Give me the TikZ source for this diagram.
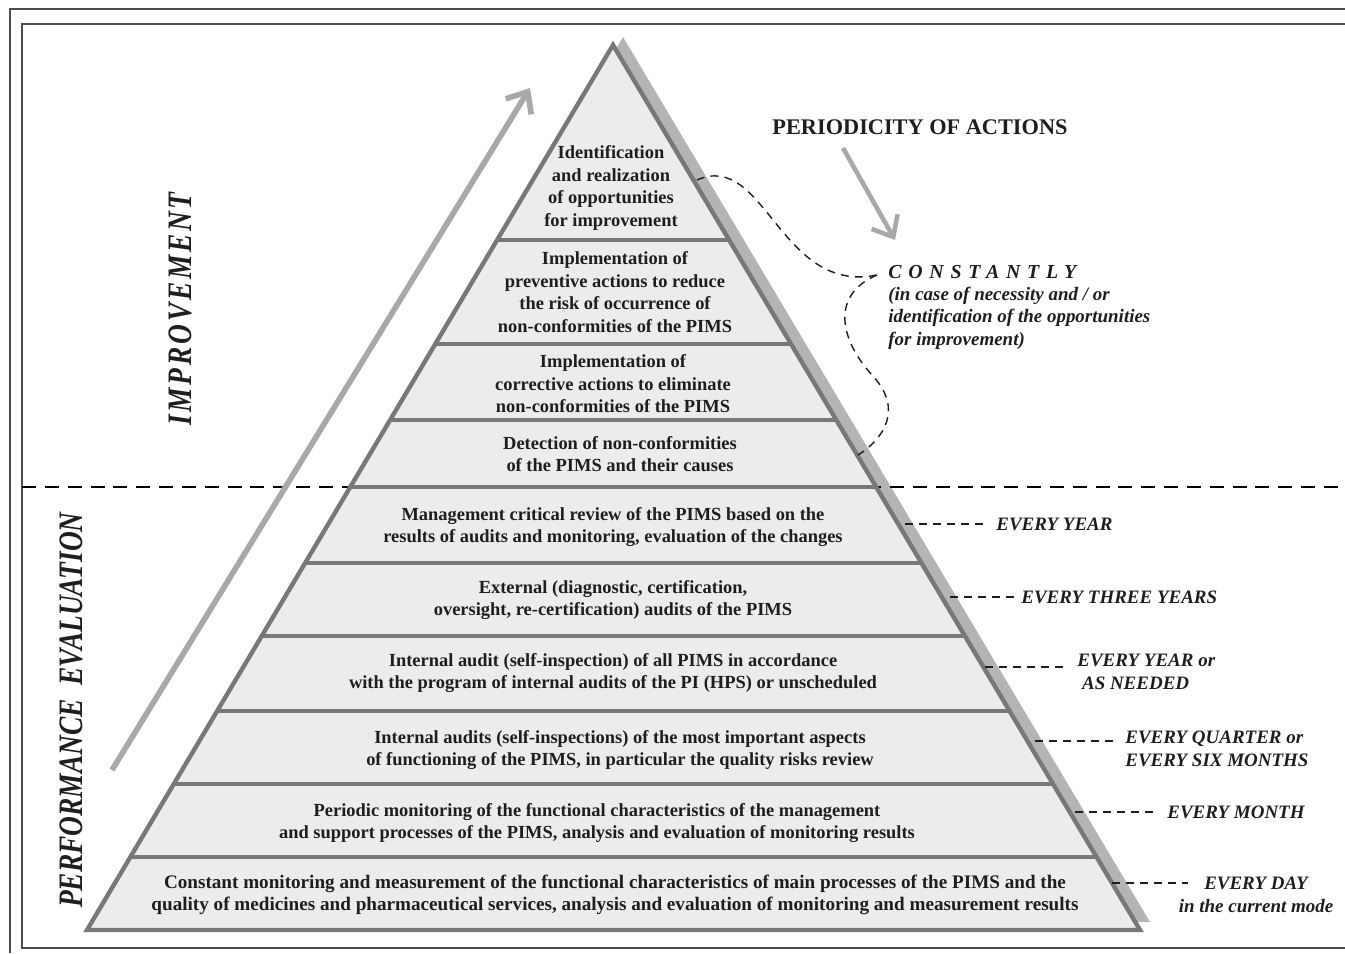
\documentclass[tikz,border=0pt]{standalone}
\usepackage{fontspec}
\setmainfont{Liberation Serif}
\newfontfamily\narrowserif[FakeStretch=0.8]{Liberation Serif}
\usetikzlibrary{arrows.meta}

\definecolor{pyrfill}{HTML}{ECECEC}
\definecolor{pyrline}{HTML}{787878}
\definecolor{pyrshade}{HTML}{B4B4B4}
\definecolor{arrowgray}{HTML}{A8A8A8}
\definecolor{ink}{HTML}{1E1E1E}

\tikzset{
  layer/.style={font=\bfseries\fontsize{10.5}{12.8}\selectfont, align=center, text=ink, inner sep=0pt},
  period/.style={font=\bfseries\itshape\fontsize{10.8}{12.8}\selectfont, align=left, text=ink, inner sep=0pt},
  tick/.style={draw=ink, line width=0.8pt, dash pattern=on 4.5pt off 3.5pt, shorten >=7pt},
  brace/.style={draw=ink, line width=0.8pt, dash pattern=on 4.5pt off 3.5pt},
  bigarrow/.style={draw=arrowgray, line width=3.2pt, -{Straight Barb[length=10pt,width=17pt]}},
  sidetitle/.style={rotate=90, text=ink, font=\narrowserif\bfseries\itshape\fontsize{19.5}{22}\selectfont},
}

\begin{document}
\begin{tikzpicture}[x=0.02cm, y=-0.02cm]
  \useasboundingbox (0,0) rectangle (1345,953);
  % frame
  \draw[line width=1.1pt, black!70] (1345,9) -- (10,9) -- (10,953);
  \draw[line width=1.1pt, black!70] (1345,24) -- (22,24) -- (22,948) -- (1345,948);

  % pyramid corners
  \coordinate (apex) at (613,45);
  \coordinate (bl) at (87,930);
  \coordinate (br) at (1140,930);

  % shadow and border line between the two parts
  \fill[pyrshade] ([shift={(10,-8)}]apex) -- ([shift={(10,-8)}]bl) -- ([shift={(10,-8)}]br) -- cycle;
  \draw[black, line width=1.6pt, dash pattern=on 8pt off 5pt] (22,487) -- (1345,487);

  % long arrow
  \coordinate (up1) at (112,770);
  \coordinate (up2) at (530,88);
  \draw[bigarrow] (up1) -- (up2);

  % pyramid body
  \fill[pyrfill] (apex) -- (bl) -- (br) -- cycle;
  \begin{scope}
    \clip (apex) -- (bl) -- (br) -- cycle;
    \foreach \y in {240,344,420,487,563,636,711,784,857}
      \draw[pyrline, line width=2.2pt] (0,\y) -- (1345,\y);
  \end{scope}
  \draw[pyrline, line width=2.5pt] (apex) -- (bl) -- (br) -- cycle;

  % levels
  \node[layer] (l1) at (611,188) {Identification\\and realization\\of opportunities\\for improvement};
  \node[layer] (l2) at (615,292) {Implementation of\\preventive actions to reduce\\the risk of occurrence of\\non-conformities of the PIMS};
  \node[layer] (l3) at (613,384) {Implementation of\\corrective actions to eliminate\\non-conformities of the PIMS};
  \node[layer] (l4) at (620,454) {Detection of non-conformities\\of the PIMS and their causes};
  \node[layer] (l5) at (613,527) {Management critical review of the PIMS based on the\\results of audits and monitoring, evaluation of the changes};
  \node[layer] (l6) at (613,600) {External (diagnostic, certification,\\oversight, re-certification) audits of the PIMS};
  \node[layer] (l7) at (613,673) {Internal audit (self-inspection) of all PIMS in accordance\\with the program of internal audits of the PI (HPS) or unscheduled};
  \node[layer] (l8) at (620,750) {Internal audits (self-inspections) of the most important aspects\\of functioning of the PIMS, in particular the quality risks review};
  \node[layer] (l9) at (597,823) {Periodic monitoring of the functional characteristics of the management\\and support processes of the PIMS, analysis and evaluation of monitoring results};
  \node[layer, font=\bfseries\fontsize{10.9}{12.8}\selectfont] (l10) at (615,895) {Constant monitoring and measurement of the functional characteristics of main processes of the PIMS and the\\quality of medicines and pharmaceutical services, analysis and evaluation of monitoring and measurement results};

  % side titles
  \node[sidetitle] (impr) at (180,309) {\addfontfeature{LetterSpace=8}IMPROVEMENT};
  \node[sidetitle] (perf) at (71,710) {PERFORMANCE\ \ EVALUATION};

  % periodicity
  \node[text=ink, font=\bfseries\fontsize{12.7}{15}\selectfont] (title) at (920,127) {PERIODICITY OF ACTIONS};
  \coordinate (pa1) at (843,148);
  \coordinate (pa2) at (895,240);
  \draw[bigarrow, line width=2.6pt] (pa1) -- (pa2);

  \node[period, anchor=west, font=\bfseries\itshape\fontsize{11.3}{13}\selectfont] (const) at (888,272) {\addfontfeature{LetterSpace=34}CONSTANTLY};
  \node[period, anchor=west] (constnote) at (888,318) {(in case of necessity and / or\\identification of the opportunities\\for improvement)};
  \coordinate (b1) at (697,180);
  \coordinate (tip) at (877,275);
  \coordinate (b2) at (858,455);
  \draw[brace] (b1) .. controls (765,150) and (780,295) .. (tip);
  \draw[brace] (tip) .. controls (830,295) and (840,340) .. (872,375)
                     .. controls (905,410) and (882,440) .. (b2);

  \coordinate (p5) at (905,524);
  \node[period, anchor=west] (e5) at (996,524) {EVERY YEAR};
  \draw[tick] (p5) -- (e5.west |- p5);
  \coordinate (p6) at (950,597);
  \node[period, anchor=west] (e6) at (1021,597) {EVERY\ THREE\ YEARS};
  \draw[tick, shorten >=3pt] (p6) -- (e6.west |- p6);
  \coordinate (p7) at (985,667);
  \node[period, anchor=west] (e7) at (1077,672) {EVERY YEAR or\\\ AS NEEDED};
  \draw[tick] (p7) -- (e7.west |- p7);
  \coordinate (p8) at (1035,741);
  \node[period, anchor=west] (e8) at (1125,749) {EVERY QUARTER\ or\\EVERY\ SIX\ MONTHS};
  \draw[tick] (p8) -- (e8.west |- p8);
  \coordinate (p9) at (1075,812);
  \node[period, anchor=west] (e9) at (1167,812) {EVERY MONTH};
  \draw[tick] (p9) -- (e9.west |- p9);
  \coordinate (p10) at (1112,883);
  \node[period, align=center] (e10) at (1256,895) {EVERY DAY\\in the current mode};
  \draw[tick, shorten >=0pt] (p10) -- (1188,883);
\end{tikzpicture}
\end{document}
